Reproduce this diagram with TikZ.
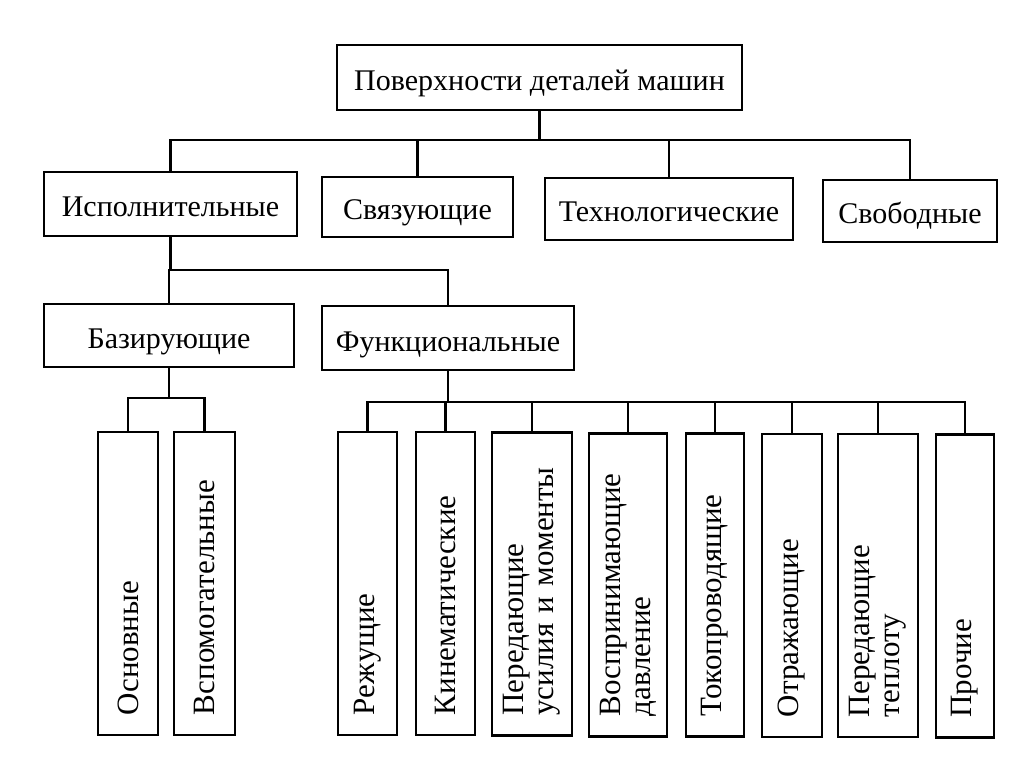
\documentclass[tikz,border=0pt]{standalone}
\usepackage{fontspec}
\setmainfont{Liberation Serif}
\begin{document}
\begin{tikzpicture}[x=1pt,y=-1pt,
  box/.style={draw, line width=2.4pt, inner sep=0pt, text height=26pt, text depth=0pt,
    font=\fontsize{30}{32}\selectfont},
  vbox/.style={draw, line width=2.4pt, rotate=90, inner xsep=20pt, inner ysep=0pt,
    align=left, text width=263pt, minimum width=303pt, font=\fontsize{31}{30}\selectfont},
  conn/.style={line width=2.2pt}]
\useasboundingbox[fill=white] (0,0) rectangle (1024,767);
% level 1
\node[box, minimum width=405pt, minimum height=65pt] (root) at (539.5,77.5) {Поверхности деталей машин};
% level 2
\node[box, minimum width=253pt, minimum height=64pt] (isp) at (170.5,204) {Исполнительные};
\node[box, minimum width=191pt, minimum height=60pt] (svy) at (417.5,207) {Связующие};
\node[box, minimum width=248pt, minimum height=62pt] (teh) at (669,209) {Технологические};
\node[box, minimum width=174pt, minimum height=62pt] (svo) at (910,211) {Свободные};
% level 3
\node[box, minimum width=250pt, minimum height=63pt] (baz) at (169,335.5) {Базирующие};
\node[box, minimum width=252pt, minimum height=64pt] (fun) at (448,338) {Функциональные};
% level 4
\node[vbox, minimum height=60pt] (osn) at (128,583.5) {Основные};
\node[vbox, minimum height=61pt] (vsp) at (204.5,583.5) {Вспомогательные};
\node[vbox, minimum height=59pt] (rez) at (367.5,583.5) {Режущие};
\node[vbox, minimum height=59pt] (kin) at (445.5,583.5) {Кинематические};
\node[vbox, minimum height=80pt] (per) at (532,584) {Передающие\\усилия и моменты};
\node[vbox, minimum height=78pt] (vos) at (628,585) {Воспринимающие\\давление};
\node[vbox, minimum height=58pt] (tok) at (715,585) {Токопроводящие};
\node[vbox, minimum height=60pt] (otr) at (792,585.5) {Отражающие};
\node[vbox, minimum height=80pt] (pte) at (878,585.5) {Передающие\\теплоту};
\node[vbox, minimum height=58pt] (pro) at (965,586) {Прочие};
% bus coordinates
\coordinate (b1) at (0,140);
\coordinate (b2) at (0,270);
\coordinate (b3) at (0,398);
\coordinate (b4) at (0,402);
% connectors level 1 -> 2
\draw[conn] (root.south) -- (root.south |- b1);
\draw[conn] (isp.north) |- (svo.north |- b1) -- (svo.north);
\foreach \n in {svy,teh} \draw[conn] (\n.north) -- (\n.north |- b1);
% level 2 -> 3
\draw[conn] (isp.south) -- (isp.south |- b2);
\draw[conn] (baz.north) |- (fun.north |- b2) -- (fun.north);
% level 3 -> 4 (base)
\draw[conn] (baz.south) -- (baz.south |- b3);
\draw[conn] (osn.east) |- (vsp.east |- b3) -- (vsp.east);
% level 3 -> 4 (functional)
\draw[conn] (fun.south) -- (fun.south |- b4);
\draw[conn] (rez.east) |- (pro.east |- b4) -- (pro.east);
\foreach \n in {kin,per,vos,tok,otr,pte} \draw[conn] (\n.east) -- (\n.east |- b4);
\end{tikzpicture}
\end{document}
